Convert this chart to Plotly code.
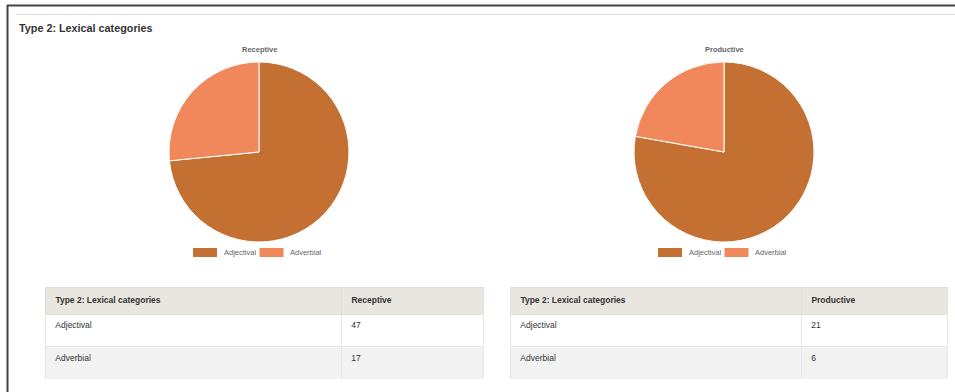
import plotly.graph_objects as go

W, H = 955, 392

# Data
categories = ["Adjectival", "Adverbial"]
receptive = [47, 17]
productive = [21, 6]
colors = ["#c47033", "#f0885c"]
table_header = "Type 2: Lexical categories"
section_title = "Type 2: Lexical categories"

FONT = "Liberation Sans, Arial, Helvetica, sans-serif"
NBSP = "\u00a0"


def px_x(x):
    return x / W


def px_y(y):
    return 1 - y / H


fig = go.Figure()

# Pie charts: (series name, values, centre x, centre y, radius) in pixels
pies = [("Receptive", receptive, 259, 152, 90), ("Productive", productive, 724, 152, 90)]

for name, vals, cx, cy, r in pies:
    fig.add_trace(go.Pie(
        labels=categories,
        values=vals,
        name=name,
        sort=False,
        direction="clockwise",
        rotation=0,
        textinfo="none",
        hoverinfo="label+value",
        marker=dict(colors=colors, line=dict(color="#ffffff", width=1)),
        domain=dict(x=[px_x(cx - r), px_x(cx + r)], y=[px_y(cy + r), px_y(cy - r)]),
        showlegend=False,
    ))
    fig.add_annotation(
        x=px_x(cx), y=px_y(50), xref="paper", yref="paper",
        text="<b>%s</b>" % name, showarrow=False,
        font=dict(family=FONT, size=7.5, color="#666666"),
        xanchor="center", yanchor="middle",
    )

# Legends under each pie
legend_rows = [(193, 252.5), (658, 252.5)]
text_w = [31, 31]
for lx, ly in legend_rows:
    x = lx
    for cat, col, tw in zip(categories, colors, text_w):
        fig.add_shape(type="rect", xref="paper", yref="paper",
                      x0=px_x(x), x1=px_x(x + 24), y0=px_y(ly + 4.5), y1=px_y(ly - 4.5),
                      fillcolor=col, line=dict(width=0))
        fig.add_annotation(x=px_x(x + 28.5), y=px_y(ly), xref="paper", yref="paper",
                           text=cat, showarrow=False, xanchor="left", yanchor="middle",
                           font=dict(family=FONT, size=7.5, color="#666666"))
        x += 28.5 + tw + 7

# Data tables: (series name, values, left, right, divider) in pixels
tables = [("Receptive", receptive, 45, 483, 341), ("Productive", productive, 510, 947, 801)]
for name, vals, x0, x1, xd in tables:
    fig.add_trace(go.Table(
        domain=dict(x=[px_x(x0), px_x(x1)], y=[px_y(379), px_y(287)]),
        columnwidth=[xd - x0, x1 - xd],
        header=dict(
            values=[NBSP + "<b>%s</b>" % table_header, NBSP + "<b>%s</b>" % name],
            fill_color="#e9e6df",
            line_color="#e2e0da",
            align="left",
            height=27,
            font=dict(family=FONT, size=8.5, color="#333333"),
        ),
        cells=dict(
            values=[[NBSP + c for c in categories], [NBSP + str(v) for v in vals]],
            fill_color=[["#ffffff", "#f2f2f2"]] * 2,
            line_color="#e6e6e6",
            align="left",
            height=32.5,
            font=dict(family=FONT, size=8.5, color="#333333"),
        ),
    ))

# Section heading and frame lines
fig.add_annotation(x=px_x(17), y=px_y(28), xref="paper", yref="paper",
                   text="<b>%s</b>" % section_title, showarrow=False,
                   xanchor="left", yanchor="middle",
                   font=dict(family=FONT, size=10.8, color="#333333"))
fig.add_shape(type="line", xref="paper", yref="paper",
              x0=px_x(16), x1=1, y0=px_y(14.5), y1=px_y(14.5),
              line=dict(color="#dddddd", width=1))
fig.add_shape(type="line", xref="paper", yref="paper",
              x0=px_x(7), x1=1, y0=px_y(5.5), y1=px_y(5.5),
              line=dict(color="#444444", width=2))
fig.add_shape(type="line", xref="paper", yref="paper",
              x0=px_x(7.5), x1=px_x(7.5), y0=0, y1=px_y(5),
              line=dict(color="#444444", width=2))

fig.update_layout(
    width=W, height=H,
    margin=dict(l=0, r=0, t=0, b=0),
    paper_bgcolor="#ffffff",
    plot_bgcolor="#ffffff",
    font=dict(family=FONT),
)

fig.write_html("out.html", config={"displayModeBar": False})
